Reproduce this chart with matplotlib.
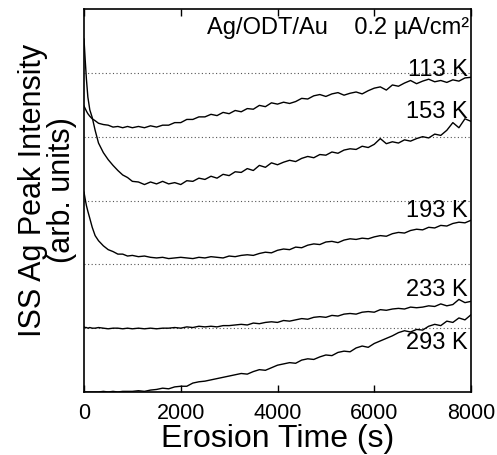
import numpy as np
import matplotlib
matplotlib.use("Agg")
import matplotlib.pyplot as plt

plt.rcParams['font.family'] = ['Liberation Sans', 'DejaVu Sans']

# Erosion time grid (s)
time_early = [0, 25, 50, 80, 120, 170, 230, 300, 400, 500, 600, 700, 800, 900]
time_s = np.concatenate([time_early, np.arange(1000, 8001, 125)])

# Offset intensities (arb. units)
i_113K = [4.48, 4.44, 4.40, 4.36, 4.32, 4.28, 4.25, 4.21, 4.19, 4.18, 4.15, 4.16, 4.14, 4.16,
          4.14, 4.16, 4.14, 4.17, 4.15, 4.18, 4.18, 4.22, 4.22, 4.27, 4.27, 4.31, 4.31, 4.35,
          4.33, 4.38, 4.36, 4.41, 4.39, 4.44, 4.43, 4.49, 4.47, 4.53, 4.51,
          4.54, 4.52, 4.55, 4.60, 4.59, 4.64, 4.66, 4.63, 4.67, 4.69, 4.65, 4.68, 4.70, 4.67,
          4.72, 4.76, 4.78, 4.73, 4.81, 4.79, 4.84, 4.88, 4.83, 4.87, 4.90, 4.86, 4.88, 4.85,
          4.89, 4.87, 4.92, 4.93]
i_153K = [5.53, 5.20, 4.90, 4.62, 4.42, 4.30, 4.10, 3.90, 3.75, 3.64, 3.55, 3.47, 3.40, 3.36,
          3.30, 3.29, 3.25, 3.29, 3.26, 3.30, 3.26, 3.28, 3.25, 3.31, 3.30, 3.35, 3.33, 3.38,
          3.35, 3.41, 3.39, 3.45, 3.44, 3.50, 3.47, 3.55, 3.52, 3.59, 3.56,
          3.60, 3.63, 3.61, 3.66, 3.69, 3.67, 3.72, 3.71, 3.76, 3.74, 3.79, 3.81, 3.80, 3.85,
          3.83, 3.88, 3.97, 3.89, 3.92, 3.90, 3.95, 3.93, 3.97, 4.00, 3.98, 4.04, 4.02, 4.10,
          4.22, 4.14, 4.28, 4.24]
i_193K = [3.13, 3.02, 2.92, 2.83, 2.72, 2.58, 2.45, 2.37, 2.29, 2.23, 2.20, 2.16, 2.16, 2.13,
          2.14, 2.12, 2.13, 2.11, 2.10, 2.11, 2.09, 2.10, 2.11,
          2.10, 2.09, 2.11, 2.10, 2.12, 2.11, 2.10, 2.13, 2.12, 2.14, 2.15, 2.14, 2.17, 2.19,
          2.18, 2.22, 2.24, 2.23, 2.27, 2.26, 2.30, 2.32, 2.31, 2.35, 2.36, 2.34, 2.38, 2.40,
          2.39, 2.41, 2.40, 2.43, 2.45, 2.44, 2.48, 2.50, 2.49, 2.53, 2.55, 2.54, 2.58, 2.57,
          2.61, 2.60, 2.64, 2.66, 2.65, 2.69]
i_233K = [1.02, 1.01, 1.01, 1.00, 1.01, 1.00, 1.00, 1.01, 1.00, 0.99, 1.00, 1.00, 0.99, 1.00,
          0.99, 1.00, 0.99, 1.00, 0.99, 1.00, 1.00, 1.01, 1.00, 1.02, 1.01, 1.03, 1.02, 1.03,
          1.02, 1.04,
          1.04, 1.05, 1.06, 1.05, 1.08, 1.07, 1.09, 1.10, 1.09, 1.12, 1.11, 1.13, 1.15, 1.14,
          1.17, 1.18, 1.17, 1.20, 1.19, 1.22, 1.23, 1.22, 1.25, 1.26, 1.25, 1.29, 1.28, 1.30,
          1.31, 1.30, 1.33, 1.32, 1.33, 1.35, 1.34, 1.38, 1.35, 1.37, 1.45, 1.40, 1.42]
i_293K = [0.00, 0.00, 0.00, 0.00, 0.00, 0.00, 0.00, 0.00, 0.01, 0.00, 0.01, 0.00, 0.01, 0.01,
          0.01, 0.02, 0.01, 0.03, 0.04, 0.06, 0.05, 0.08, 0.09, 0.09, 0.14, 0.16, 0.17, 0.19,
          0.21, 0.23,
          0.25, 0.27, 0.29, 0.28, 0.32, 0.35, 0.34, 0.38, 0.42, 0.44, 0.46, 0.45, 0.50, 0.52,
          0.51, 0.55, 0.58, 0.57, 0.62, 0.64, 0.63, 0.69, 0.72, 0.70, 0.76, 0.80, 0.84, 0.88,
          0.93, 0.96, 0.94, 0.98, 0.97, 1.03, 1.06, 1.04, 1.11, 1.09, 1.16, 1.13, 1.21]

series = [i_113K, i_153K, i_193K, i_233K, i_293K]
temp_labels = ["113 K", "153 K", "193 K", "233 K", "293 K"]
label_y = [5.06, 4.40, 2.85, 1.61, 0.78]
baselines = [1, 2, 3, 4, 5]
x_ticks = [0, 2000, 4000, 6000, 8000]

for s_ in series:
    assert len(s_) == len(time_s), len(s_)

fig = plt.figure(figsize=(4.97, 4.56), dpi=100)
ax = fig.add_axes([84/497, 63/456, 387/497, 383/456])

for b in baselines:
    ax.axhline(b, color='#555555', lw=0.8, ls=(0, (1, 2.2)), zorder=1)

for vals in series:
    ax.plot(time_s, vals, color='black', lw=1.0, zorder=2)

for lab, yy in zip(temp_labels, label_y):
    ax.text(7930, yy, lab, ha='right', va='center', fontsize=17, zorder=3)

ax.text(7960, 5.72, "Ag/ODT/Au    0.2 \u00b5A/cm\u00b2", ha='right', va='center', fontsize=17)

ax.set_xlim(0, 8000)
ax.set_ylim(0, 6)
ax.set_xticks(x_ticks)
ax.set_xticklabels([str(v) for v in x_ticks], fontsize=15.5)
ax.set_yticks([])
ax.tick_params(axis='x', direction='in', length=5, width=1, top=True, pad=7)
for s in ax.spines.values():
    s.set_linewidth(1.2)

ax.set_xlabel("Erosion Time (s)", fontsize=23, labelpad=0)
ax.set_ylabel("ISS Ag Peak Intensity\n(arb. units)", fontsize=22, linespacing=0.95)
ax.yaxis.set_label_coords(-0.018, 0.53)

fig.savefig("out.png", dpi=100)
